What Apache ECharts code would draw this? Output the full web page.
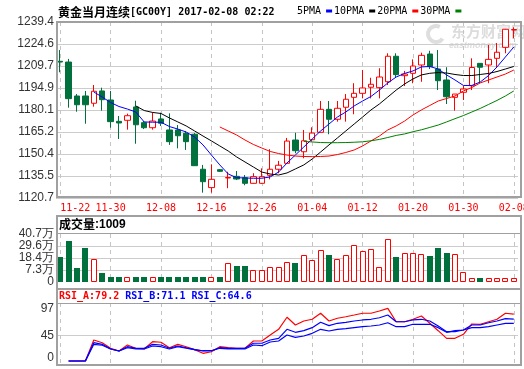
<!DOCTYPE html>
<html><head><meta charset="utf-8">
<script src="https://cdn.jsdelivr.net/npm/echarts@6/dist/echarts.min.js"></script>
<style>html,body{margin:0;padding:0;background:#fff}#c{width:524px;height:369px}</style>
</head><body><div id="c"></div>
<script>
const DATES = ['11-22','11-23','11-24','11-25','11-28','11-29','11-30','12-01','12-02','12-05','12-06','12-07','12-08','12-09','12-12','12-13','12-14','12-15','12-16','12-19','12-20','12-21','12-22','12-23','12-26','12-27','12-28','12-29','12-30','01-03','01-04','01-05','01-06','01-09','01-10','01-11','01-12','01-13','01-16','01-17','01-18','01-19','01-20','01-23','01-24','01-25','01-26','01-27','01-30','01-31','02-01','02-02','02-03','02-06','02-08'];
const OPEN  = [1212.9,1212.4,1189.5,1189.5,1184.6,1192.9,1186.8,1172.4,1173.1,1182.1,1171.5,1168.1,1174.0,1166.6,1166.6,1164.3,1163.7,1140.1,1127.7,1139.8,1134.2,1135.3,1134.4,1130.6,1130.6,1136.0,1140.1,1144.1,1159.8,1151.9,1160.0,1165.0,1180.5,1173.8,1181.9,1188.6,1191.3,1195.4,1195.1,1199.1,1216.3,1203.2,1204.8,1210.4,1217.8,1207.7,1200.3,1188.6,1192.0,1196.4,1211.5,1210.4,1214.9,1222.3,1234.0];
const CLOSE = [1212.4,1187.7,1183.6,1183.6,1192.7,1187.0,1172.2,1171.3,1176.2,1170.1,1168.1,1172.6,1171.1,1158.7,1162.7,1158.7,1142.5,1131.7,1133.3,1138.7,1134.5,1133.5,1130.6,1135.1,1135.1,1140.1,1142.8,1159.1,1152.6,1159.3,1164.5,1180.5,1173.8,1181.2,1187.3,1191.3,1194.9,1197.4,1202.3,1216.3,1203.9,1204.3,1209.7,1216.9,1209.3,1199.8,1189.0,1190.8,1194.2,1208.7,1208.9,1214.2,1219.0,1234.5,1234.3];
const LOW   = [1205.5,1181.6,1178.9,1170.8,1182.3,1179.6,1168.1,1160.5,1166.8,1157.3,1167.2,1166.8,1169.3,1156.5,1154.2,1153.1,1142.3,1124.3,1124.3,1138.4,1127.3,1132.8,1129.3,1130.4,1130.2,1133.3,1137.4,1143.6,1150.9,1147.5,1158.7,1164.8,1163.7,1172.2,1172.2,1177.2,1187.9,1187.9,1187.9,1196.9,1202.1,1196.2,1198.1,1199.1,1207.7,1193.5,1184.1,1179.6,1186.8,1193.5,1198.1,1198.1,1208.4,1218.3,1228.4];
const HIGH  = [1220.5,1214.5,1190.8,1192.9,1196.9,1195.1,1192.9,1176.0,1177.6,1186.3,1172.6,1178.5,1178.2,1177.8,1169.9,1165.9,1164.5,1143.0,1143.4,1140.2,1138.4,1138.9,1136.2,1137.4,1140.7,1153.6,1145.7,1161.2,1164.7,1166.6,1168.4,1186.1,1186.1,1186.1,1190.8,1198.1,1207.0,1201.8,1208.2,1218.3,1218.3,1206.4,1214.2,1218.7,1220.0,1220.5,1208.9,1190.8,1196.4,1214.9,1211.5,1223.9,1225.2,1234.7,1235.8];
const MA5  = ['-','-','-','-',1192.2,1188.8,1185.1,1182.4,1180.7,1178.7,1172.0,1171.8,1171.8,1168.9,1167.2,1165.2,1161.8,1156.5,1149.7,1143.0,1136.9,1134.4,1134.2,1134.0,1134.0,1134.9,1138.2,1144.3,1149.7,1155.1,1160.5,1165.9,1170.6,1175.3,1178.7,1182.8,1186.1,1189.2,1193.5,1198.3,1202.3,1204.7,1206.4,1209.1,1209.4,1207.7,1203.7,1200.3,1196.6,1196.6,1198.9,1203.3,1209.1,1215.8,1222.5];
const MA10 = ['-','-','-','-','-','-','-','-','-',1182.8,1179.7,1178.4,1177.7,1174.7,1172.0,1169.3,1165.9,1162.5,1159.2,1155.8,1152.4,1148.4,1145.0,1141.6,1138.2,1136.9,1136.2,1137.6,1140.3,1143.0,1147.0,1151.7,1156.5,1161.2,1165.9,1170.6,1175.3,1180.1,1184.1,1188.8,1193.5,1197.6,1201.0,1203.7,1204.8,1205.3,1205.0,1204.0,1203.3,1203.3,1204.0,1204.7,1206.0,1207.7,1209.4];
const MA20 = ['-','-','-','-','-','-','-','-','-','-','-','-','-','-','-','-','-','-','-',1168.6,1165.9,1163.2,1159.8,1156.8,1154.4,1152.1,1150.7,1149.7,1149.0,1148.7,1148.6,1148.7,1149.0,1150.0,1151.4,1153.1,1155.8,1159.2,1162.5,1166.6,1169.3,1172.6,1176.7,1180.1,1183.1,1186.1,1187.8,1189.5,1192.9,1195.2,1198.3,1200.3,1202.3,1204.3,1207.0];
const MA30 = ['-','-','-','-','-','-','-','-','-','-','-','-','-','-','-','-','-','-','-','-','-','-','-','-','-','-','-','-','-',1158.8,1158.5,1158.1,1158.0,1158.0,1158.1,1158.3,1158.6,1159.3,1160.2,1161.5,1162.9,1163.9,1165.4,1166.7,1168.3,1169.9,1172.0,1174.2,1176.3,1178.7,1181.1,1183.8,1186.5,1189.5,1192.9];
const VOLUME = [19.7,34.5,9.5,28.0,17.2,4.8,0.8,0.8,0.8,0.8,0.8,0.8,0.8,0.8,0.8,0.8,0.8,0.8,0.8,0.8,13.5,11.0,11.0,7.3,7.3,9.8,9.8,14.7,13.8,20.9,16.6,25.6,21.2,17.2,20.9,30.5,24.7,26.5,9.8,35.8,19.4,23.1,23.1,22.2,20.3,27.7,23.4,22.2,5.5,0.3,0.3,0.3,0.3,0.3,0.1];
const RSI_A = ['-',4.4,4.4,4.4,37.9,33.6,24.7,20.4,29.9,24.7,23.6,35.2,34.3,25.6,31.0,27.2,22.6,16.7,19.2,27.2,25.6,24.7,24.7,36.3,36.3,45.9,55.0,74.2,61.9,68.3,71.0,80.6,68.3,72.6,75.1,77.8,80.6,80.6,84.2,88.5,67.1,67.1,71.0,76.2,64.6,52.8,40.6,40.6,47.0,63.5,63.0,67.1,71.0,80.6,79.2];
const RSI_B = ['-',4.4,4.4,4.4,33.6,31.0,23.6,20.4,27.2,24.7,24.7,31.0,29.9,24.7,28.3,25.6,22.6,20.4,20.8,25.6,24.7,24.7,24.7,32.7,32.7,37.9,40.6,55.0,50.2,52.8,57.6,66.2,60.8,64.6,66.2,68.3,69.9,71.0,73.5,77.8,67.1,67.1,69.9,71.0,68.3,60.3,51.2,51.2,53.9,61.9,61.9,65.5,68.3,72.1,71.1];
const RSI_C = ['-',4.4,4.4,4.4,31.0,29.5,23.6,20.4,25.6,23.6,23.6,28.3,27.2,23.6,27.2,24.7,22.6,20.8,20.8,24.7,23.6,23.6,23.6,29.9,28.8,34.7,36.3,45.9,42.2,44.3,48.6,55.0,52.3,55.0,56.0,57.6,59.2,60.3,61.9,65.5,59.2,59.2,63.0,63.0,63.0,57.6,50.2,52.8,53.9,57.6,57.6,59.2,61.9,64.6,64.6];
const PRICE_TICKS = [1120.7,1135.5,1150.4,1165.2,1180.1,1194.9,1209.7,1224.6,1239.4];
const VOL_TICKS = [-3.8,7.3,18.4,29.6,40.7];
const VOL_LABELS = ['0','7.3万','18.4万','29.6万','40.7万'];
const RSI_TICKS = [0,45,97];
const RSI_MIN = -2;
const MA_NAMES = ['5PMA','10PMA','20PMA','30PMA'];
const TITLE = '黄金当月连续';
const CODE = '[GC00Y] 2017-02-08 02:22';
const VOL_HEAD = ['成交量', ':1009'];
const RSI_HEAD = ['RSI_A:79.2', 'RSI_B:71.1', 'RSI_C:64.6'];

const RED = '#ff0000', GREEN = '#00703c', BLUE = '#0000ff';
const MONO = 'DejaVu Sans Mono';
const SANS = 'Liberation Sans';
const CJK = 'Noto Sans CJK SC';

const chart = echarts.init(document.getElementById('c'), null, {renderer: 'canvas'});
const G = {left: 56, width: 462, outerBoundsMode: 'none', containLabel: false};
const gridLine = {show: true, lineStyle: {color: '#cccccc', width: 1}};
const vDash = {show: true, interval: 5, alignWithLabel: true, lineStyle: {color: '#c4c4c4', type: [4, 4], width: 1}};

function xAx(idx, showLabel) {
  return {
    type: 'category', gridIndex: idx, data: DATES, boundaryGap: true,
    axisLine: {show: false}, axisTick: {show: false, interval: 5, alignWithLabel: true},
    axisLabel: showLabel ? {show: true, interval: 5, color: RED, fontFamily: MONO, fontSize: 10, margin: 5, alignMinLabel: 'left'} : {show: false},
    splitLine: vDash
  };
}

const option = {
  animation: false,
  backgroundColor: '#fff',
  textStyle: {fontFamily: SANS},
  title: [
    {text: '{a|' + TITLE + '}{b|' + CODE + '}', left: 58, top: 5, padding: 0,
     textStyle: {rich: {a: {fontFamily: CJK, fontSize: 12, color: '#000', lineHeight: 15}, b: {fontFamily: MONO, fontSize: 10, color: '#000', lineHeight: 15}}}},
    {text: '{a|' + VOL_HEAD[0] + '}{b|' + VOL_HEAD[1] + '}', left: 59, top: 217, padding: 0,
     textStyle: {rich: {a: {fontFamily: CJK, fontSize: 12, color: '#000', lineHeight: 15}, b: {fontFamily: SANS, fontSize: 12, color: '#000', lineHeight: 15}}}},
    {text: '{a|' + RSI_HEAD[0] + ' }{b|' + RSI_HEAD[1] + ' ' + RSI_HEAD[2] + '}', left: 59, top: 289, padding: 0,
     textStyle: {rich: {a: {fontFamily: MONO, fontSize: 10, color: RED, lineHeight: 14}, b: {fontFamily: MONO, fontSize: 10, color: BLUE, lineHeight: 14}}}}
  ],
  legend: {
    data: MA_NAMES, left: 297, top: 6, padding: 0, align: 'right', icon: 'rect',
    itemWidth: 6, itemHeight: 3, itemGap: 2, selectedMode: false,
    textStyle: {fontFamily: MONO, fontSize: 10, color: '#000', padding: [0, 0, 0, 0]}
  },
  grid: [
    Object.assign({top: 22, height: 176}, G),
    Object.assign({top: 234, height: 48}, G),
    Object.assign({top: 303, height: 62}, G)
  ],
  xAxis: [xAx(0, true), xAx(1, false), xAx(2, false)],
  yAxis: [
    {type: 'value', gridIndex: 0, min: PRICE_TICKS[0], max: PRICE_TICKS[PRICE_TICKS.length - 1],
     axisLine: {show: false}, axisTick: {show: false, customValues: PRICE_TICKS},
     axisLabel: {customValues: PRICE_TICKS, showMinLabel: true, showMaxLabel: true, formatter: v => v.toFixed(1), color: '#333', fontFamily: SANS, fontSize: 12, margin: 2},
     splitLine: gridLine},
    {type: 'value', gridIndex: 1, min: VOL_TICKS[0], max: VOL_TICKS[VOL_TICKS.length - 1],
     axisLine: {show: false}, axisTick: {show: false, customValues: VOL_TICKS.slice(1, 4)},
     axisLabel: {customValues: VOL_TICKS, showMinLabel: true, showMaxLabel: true, hideOverlap: false, margin: 2, color: '#333', fontFamily: SANS, fontSize: 12, lineHeight: 9,
       formatter: (v) => VOL_LABELS[VOL_TICKS.indexOf(v)]},
     splitLine: gridLine},
    {type: 'value', gridIndex: 2, min: RSI_MIN, max: RSI_TICKS[RSI_TICKS.length - 1],
     axisLine: {show: false}, axisTick: {show: false, customValues: [RSI_TICKS[1]]},
     axisLabel: {customValues: RSI_TICKS, showMinLabel: true, showMaxLabel: true, margin: 2, color: '#333', fontFamily: SANS, fontSize: 12,
       formatter: (v) => v === RSI_TICKS[RSI_TICKS.length - 1] ? '{t|' + v + '}' : (v === RSI_TICKS[0] ? '{b|' + v + '}' : String(v)),
       rich: {t: {fontFamily: SANS, fontSize: 12, color: '#333', padding: [12, 0, 0, 0]},
              b: {fontFamily: SANS, fontSize: 12, color: '#333', padding: [0, 0, 12, 0]}}},
     splitLine: gridLine}
  ],
  series: [
    {type: 'candlestick', name: 'K', xAxisIndex: 0, yAxisIndex: 0, barWidth: 6,
     data: DATES.map((d, i) => [OPEN[i], CLOSE[i], LOW[i], HIGH[i]]),
     itemStyle: {color: '#ffffff', color0: GREEN, borderColor: RED, borderColor0: GREEN, borderWidth: 1}},
    {type: 'line', name: MA_NAMES[0], data: MA5, xAxisIndex: 0, yAxisIndex: 0, symbol: 'none', silent: true, itemStyle: {color: BLUE}, lineStyle: {color: BLUE, width: 1}},
    {type: 'line', name: MA_NAMES[1], data: MA10, xAxisIndex: 0, yAxisIndex: 0, symbol: 'none', silent: true, itemStyle: {color: '#000'}, lineStyle: {color: '#000', width: 1}},
    {type: 'line', name: MA_NAMES[2], data: MA20, xAxisIndex: 0, yAxisIndex: 0, symbol: 'none', silent: true, itemStyle: {color: RED}, lineStyle: {color: RED, width: 1}},
    {type: 'line', name: MA_NAMES[3], data: MA30, xAxisIndex: 0, yAxisIndex: 0, symbol: 'none', silent: true, itemStyle: {color: '#008000'}, lineStyle: {color: '#008000', width: 1}},
    {type: 'custom', name: 'VOL', xAxisIndex: 1, yAxisIndex: 1, silent: true,
     data: VOLUME.map((v, i) => [i, v, CLOSE[i] > OPEN[i] ? 1 : 0]),
     encode: {x: 0, y: 1},
     renderItem: function (params, api) {
       const i = api.value(0), v = api.value(1), up = api.value(2);
       const t = api.coord([i, v]);
       const b = api.coord([i, VOL_TICKS[0]]);
       const cx = Math.round(t[0]);
       const y0 = Math.round(t[1]);
       const y1 = Math.round(b[1]);
       if (up) {
         return {type: 'rect', shape: {x: cx - 3 + 0.5, y: y0 + 0.5, width: 5, height: Math.max(1, y1 - y0 - 1)}, style: {fill: '#fff', stroke: RED, lineWidth: 1}};
       }
       return {type: 'rect', shape: {x: cx - 3, y: y0, width: 6, height: y1 - y0}, style: {fill: GREEN}};
     }},
    {type: 'line', name: 'RSI_A', data: RSI_A, xAxisIndex: 2, yAxisIndex: 2, symbol: 'none', silent: true, lineStyle: {color: RED, width: 1.2}},
    {type: 'line', name: 'RSI_B', data: RSI_B, xAxisIndex: 2, yAxisIndex: 2, symbol: 'none', silent: true, lineStyle: {color: BLUE, width: 1.2}},
    {type: 'line', name: 'RSI_C', data: RSI_C, xAxisIndex: 2, yAxisIndex: 2, symbol: 'none', silent: true, lineStyle: {color: BLUE, width: 1.2}}
  ],
  graphic: [
    {type: 'arc', silent: true, z: 0, shape: {cx: 436, cy: 34, r: 8, startAngle: 0.6, endAngle: 5.2}, style: {stroke: '#dedede', lineWidth: 4, fill: 'none'}},
    {type: 'text', silent: true, z: 0, left: 451, top: 24, style: {text: '东方财富网', font: 'bold 15px "Noto Sans CJK SC"', fill: '#dcdcdc'}},
    {type: 'text', silent: true, z: 0, left: 449, top: 41, style: {text: 'eastmoney.com', font: 'italic bold 9px "Liberation Sans"', fill: '#dcdcdc'}},
    {type: 'rect', silent: true, z: 100, shape: {x: 57, y: 22, width: 464, height: 175}, style: {fill: 'none', stroke: '#a0a0a0', lineWidth: 2}},
    {type: 'rect', silent: true, z: 100, shape: {x: 57, y: 216, width: 464, height: 73}, style: {fill: 'none', stroke: '#a0a0a0', lineWidth: 2}},
    {type: 'line', silent: true, z: 100, shape: {x1: 57, y1: 233.5, x2: 521, y2: 233.5}, style: {stroke: '#a0a0a0', lineWidth: 1}},
    {type: 'rect', silent: true, z: 100, shape: {x: 57, y: 289, width: 464, height: 76}, style: {fill: 'none', stroke: '#a0a0a0', lineWidth: 2}},
    {type: 'line', silent: true, z: 100, shape: {x1: 57, y1: 303.5, x2: 521, y2: 303.5}, style: {stroke: '#a0a0a0', lineWidth: 1}}
  ]
};
chart.setOption(option);
</script>
</body></html>
